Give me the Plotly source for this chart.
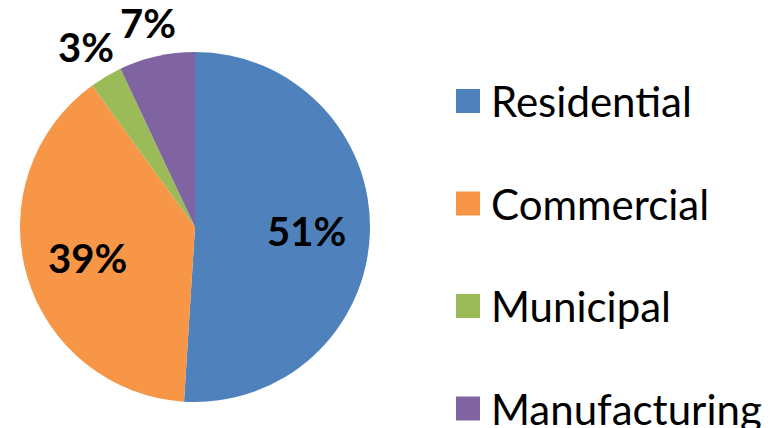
import math
import plotly.graph_objects as go

# water use by sector (share, %)
sectors = ["Residential", "Commercial", "Municipal", "Manufacturing"]
shares = [51, 39, 3, 7]
colors = ["#4F81BD", "#F79646", "#9BBB59", "#8064A2"]
label_outside = [False, False, True, True]

W, H = 781, 428
PAGE_OFFSET = 8  # browser body margin around the plot div
font_name = "Lato"
pct_size = 40


def px(x):
    return (x - PAGE_OFFSET) / W


def py(y):
    return 1 - (y - PAGE_OFFSET) / H


# pie geometry (page pixels)
cx, cy, radius = 195, 227, 175

fig = go.Figure()
fig.add_trace(
    go.Pie(labels=sectors,
           values=shares,
           sort=False,
           direction="clockwise",
           rotation=0,
           marker=dict(colors=colors, line=dict(width=0)),
           textinfo="none",
           domain=dict(x=[px(cx - radius), px(cx + radius)],
                       y=[py(cy + radius), py(cy - radius)]),
           showlegend=False,
           hoverinfo="label+percent"))

# percentage labels placed at each slice's mid angle
total = sum(shares)
running = 0
for share, outside in zip(shares, label_outside):
    mid = (running + share / 2) / total * 2 * math.pi
    running += share
    label = f"{round(share / total * 100)}%"
    sx, sy = math.sin(mid), -math.cos(mid)
    if outside:
        # push the text box fully outside the rim
        w, h = 0.52 * pct_size * len(label), 0.8 * pct_size
        lx = cx + 193 * sx + sx * w / 2
        ly = cy + 193 * sy + sy * h / 2
    else:
        lx = cx + 112 * sx
        ly = cy + 112 * sy
    fig.add_annotation(xref="paper", yref="paper",
                       x=px(lx), y=py(ly),
                       xanchor="center", yanchor="middle",
                       text=label,
                       showarrow=False,
                       font=dict(family=font_name, size=pct_size,
                                 color="black", weight="bold"))

# legend drawn by hand so the rows can be spaced out like the original
row_top = 101
row_gap = 102.5
for i, (name, col) in enumerate(zip(sectors, colors)):
    yc = row_top + i * row_gap
    fig.add_shape(type="rect", xref="paper", yref="paper",
                  x0=px(456), x1=px(480),
                  y0=py(yc + 12), y1=py(yc - 12),
                  fillcolor=col, line=dict(width=0))
    fig.add_annotation(xref="paper", yref="paper",
                       x=px(489), y=py(yc),
                       xanchor="left", yanchor="middle",
                       text=name, showarrow=False,
                       font=dict(family=font_name, size=42, color="black"))

fig.update_layout(width=W, height=H,
                  margin=dict(l=0, r=0, t=0, b=0),
                  paper_bgcolor="white",
                  plot_bgcolor="white")

fig.write_html("out.html")
